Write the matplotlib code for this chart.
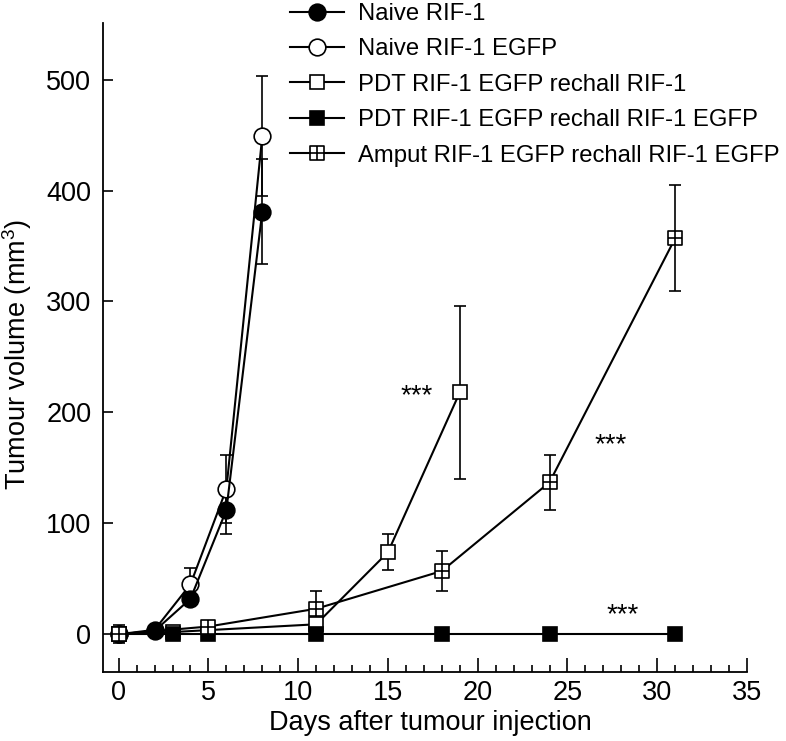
import matplotlib
matplotlib.use("Agg")
import matplotlib.pyplot as plt
from matplotlib.path import Path
from matplotlib.ticker import MultipleLocator

plt.rcParams['font.family'] = ['Liberation Sans', 'DejaVu Sans']
plt.rcParams['mathtext.fontset'] = 'custom'
plt.rcParams['mathtext.rm'] = 'Liberation Sans'
plt.rcParams['mathtext.default'] = 'regular'

# ---- data ----
naive_days = [0, 2, 4, 6, 8]
naive_rif = [0, 3, 32, 112, 381]
naive_rif_err = [0, 2, 6, 22, 47]
naive_egfp = [0, 4, 45, 131, 449]
naive_egfp_err = [0, 2, 15, 31, 54]

pdt_rif_days = [0, 3, 11, 15, 19]
pdt_rif = [0, 2, 9, 74, 218]
pdt_rif_err = [0, 1, 4, 16, 78]

pdt_egfp_days = [0, 3, 5, 11, 18, 24, 31]
pdt_egfp = [0, 0, 0, 0, 0, 0, 0]

amput_days = [0, 5, 11, 18, 24, 31]
amput = [0, 7, 23, 57, 137, 357]
amput_err = [8, 2, 16, 18, 25, 48]

labels = ["Naive RIF-1", "Naive RIF-1 EGFP", "PDT RIF-1 EGFP rechall RIF-1",
          "PDT RIF-1 EGFP rechall RIF-1 EGFP", "Amput RIF-1 EGFP rechall RIF-1 EGFP"]

stars = [(16.6, 215), (27.4, 170), (28.1, 17)]

# crossed square marker
verts = [(-1, -1), (1, -1), (1, 1), (-1, 1), (-1, -1),
         (-1, 0), (1, 0), (0, -1), (0, 1)]
codes = [Path.MOVETO, Path.LINETO, Path.LINETO, Path.LINETO, Path.CLOSEPOLY,
         Path.MOVETO, Path.LINETO, Path.MOVETO, Path.LINETO]
crossed_square = Path(verts, codes)

fig = plt.figure(figsize=(7.86, 7.41), dpi=100)
ax = fig.add_axes([102.5/786, (741-672)/741, (747-102.5)/786, (672-23)/741])

lw = 1.5
elw = 1.2
cap = 4.3
mew = 1.2

def eb(x, y, e, z):
    ax.errorbar(x, y, yerr=e, fmt='none', ecolor='black', elinewidth=elw,
                capsize=cap, capthick=elw, zorder=z)

eb(naive_days, naive_egfp, naive_egfp_err, 2)
eb(naive_days, naive_rif, naive_rif_err, 2)
eb(pdt_rif_days, pdt_rif, pdt_rif_err, 2)
eb(amput_days, amput, amput_err, 2)

h = [None]*5
h[1], = ax.plot(naive_days, naive_egfp, '-', color='black', lw=lw, marker='o', ms=12,
                mfc='white', mec='black', mew=mew, label=labels[1], zorder=3)
h[0], = ax.plot(naive_days, naive_rif, '-', color='black', lw=lw, marker='o', ms=12,
                mfc='black', mec='black', mew=mew, label=labels[0], zorder=4)
h[2], = ax.plot(pdt_rif_days, pdt_rif, '-', color='black', lw=lw, marker='s', ms=9.5,
                mfc='white', mec='black', mew=mew, label=labels[2], zorder=3)
h[3], = ax.plot(pdt_egfp_days, pdt_egfp, '-', color='black', lw=lw, marker='s', ms=10.5,
                mfc='black', mec='black', mew=mew, label=labels[3], zorder=4)
h[4], = ax.plot(amput_days, amput, '-', color='black', lw=lw, marker=crossed_square, ms=9.5,
                mfc='white', mec='black', mew=mew, label=labels[4], zorder=5)

for (sx, sy) in stars:
    ax.text(sx, sy, '***', ha='center', va='center', fontsize=20)

ax.set_xlim(-0.9, 35)
ax.set_ylim(-34, 551)
ax.xaxis.set_major_locator(MultipleLocator(5))
ax.xaxis.set_minor_locator(MultipleLocator(1))
ax.yaxis.set_major_locator(MultipleLocator(100))
ax.tick_params(axis='x', which='major', direction='in', length=10, width=1.2,
               labelsize=19.5, pad=6)
ax.tick_params(axis='x', which='minor', direction='in', length=5, width=1.2)
ax.tick_params(axis='y', which='major', direction='in', length=7, width=1.2,
               labelsize=19.5, pad=8)
for s in ['top', 'right']:
    ax.spines[s].set_visible(False)
for s in ['left', 'bottom']:
    ax.spines[s].set_linewidth(1.3)

ax.set_xlabel('Days after tumour injection', fontsize=19.5)
ax.xaxis.set_label_coords(0.508, -0.058)
ax.set_ylabel('Tumour volume (mm$^3$)', fontsize=19.5)
ax.yaxis.set_label_coords(-0.106, 0.49)

ax.legend(handles=h, loc='upper left', bbox_to_anchor=(290/786, 1.0 - 3/741),
          bbox_transform=fig.transFigure, frameon=False, borderpad=0,
          borderaxespad=0, handlelength=2.25, handletextpad=0.6,
          labelspacing=0.56, fontsize=17.2)

fig.savefig('out.png', dpi=100)
